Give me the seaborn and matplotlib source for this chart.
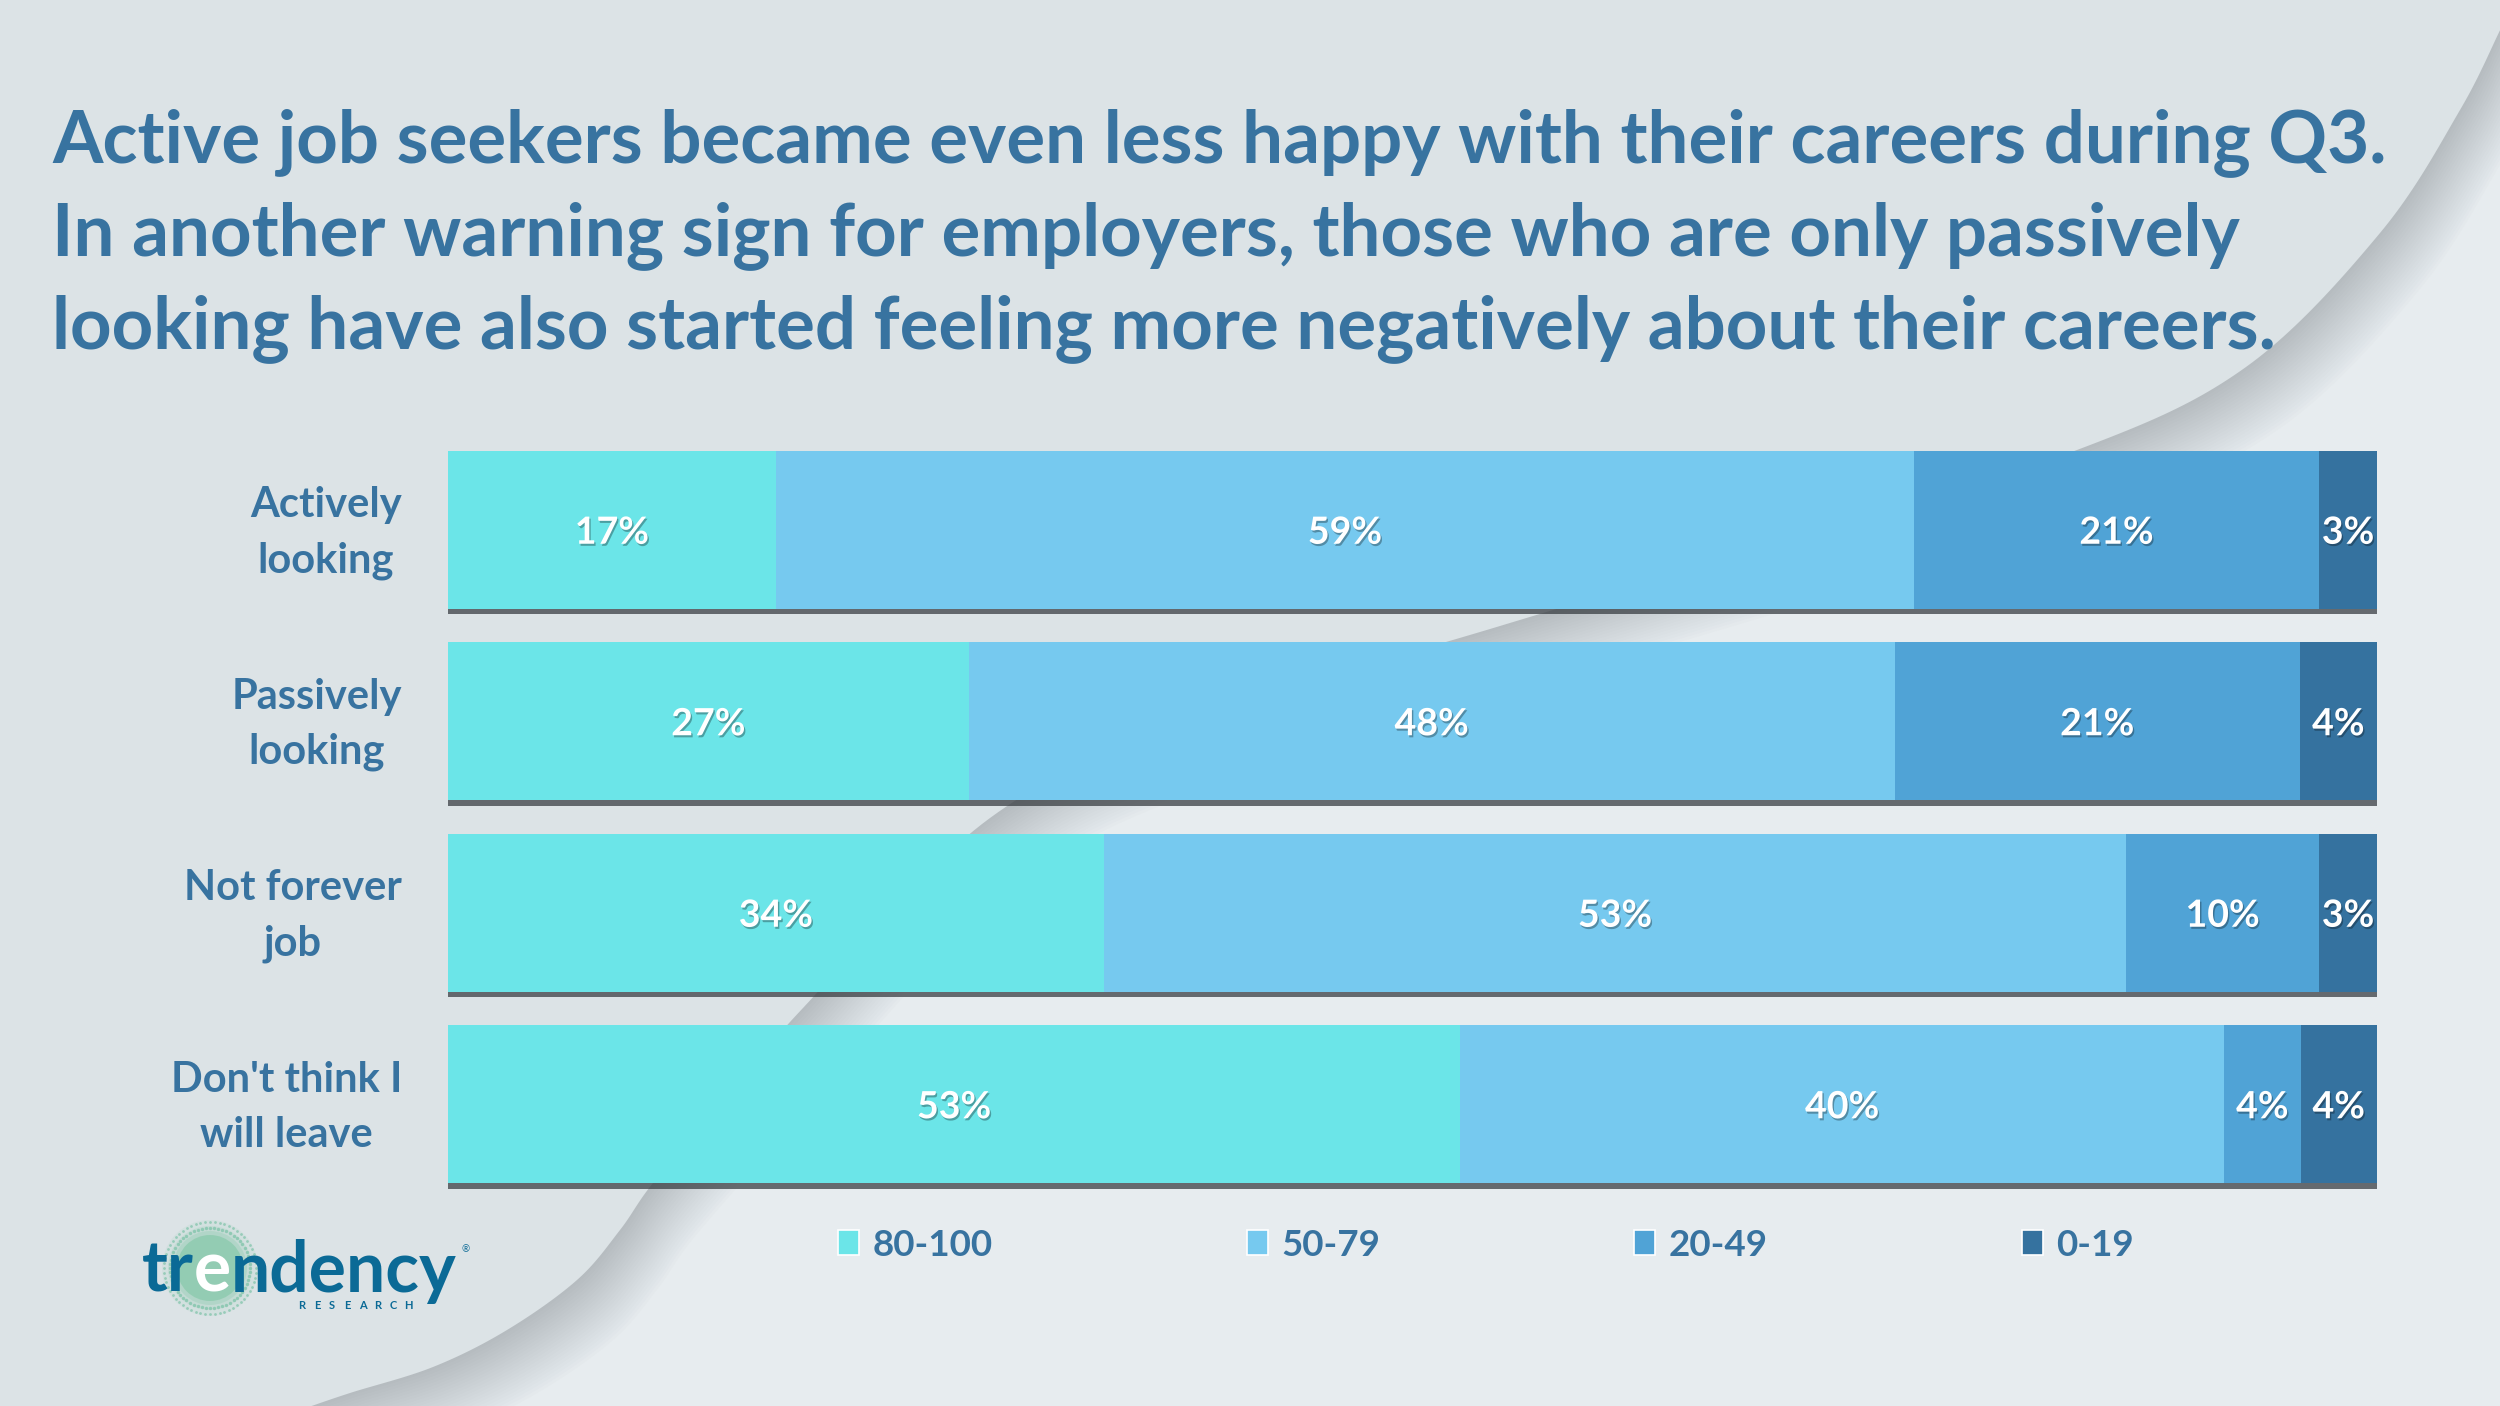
import numpy as np
import pandas as pd
import matplotlib
matplotlib.use("Agg")
import matplotlib.pyplot as plt
import seaborn as sns
from matplotlib.patches import Polygon, Patch, Circle
import matplotlib.patheffects as pe

# ---------------- data ----------------
categories = ["Actively\nlooking", "Passively\nlooking", "Not forever\njob", "Don't think I\nwill leave"]
bands = ["80-100", "50-79", "20-49", "0-19"]
v_80_100 = [17, 27, 34, 53]
v_50_79 = [59, 48, 53, 40]
v_20_49 = [21, 21, 10, 4]
v_0_19 = [3, 4, 3, 4]
colors = ["#6BE5E8", "#76C9EF", "#50A3D6", "#35729F"]
title_lines = [
    "Active job seekers became even less happy with their careers during Q3.",
    "In another warning sign for employers, those who are only passively",
    "looking have also started feeling more negatively about their careers.",
]
TXT = "#3873A0"
LOGO = "#0B6A96"

W, H = 2500, 1406
sns.set_theme(style="white")
plt.rcParams["font.family"] = ["Lato", "DejaVu Sans"]

fig = plt.figure(figsize=(W / 100, H / 100), dpi=100)
fig.patch.set_facecolor("#E7ECEF")

# ---------------- background decoration ----------------
bg = fig.add_axes([0, 0, 1, 1], zorder=0)
bg.set_xlim(0, W)
bg.set_ylim(H, 0)
bg.axis("off")


def catmull(pts, n=24):
    P = np.array(pts, float)
    P = np.vstack([P[0] * 2 - P[1], P, P[-1] * 2 - P[-2]])
    out = []
    for i in range(1, len(P) - 2):
        p0, p1, p2, p3 = P[i - 1], P[i], P[i + 1], P[i + 2]
        t = np.linspace(0, 1, n, endpoint=False)[:, None]
        out.append(0.5 * ((2 * p1) + (-p0 + p2) * t + (2 * p0 - 5 * p1 + 4 * p2 - p3) * t ** 2
                          + (-p0 + 3 * p1 - 3 * p2 + p3) * t ** 3))
    out.append(P[-2][None])
    return np.vstack(out)


curve_pts = [(300, 1410), (350, 1393), (433, 1367), (507, 1330), (577, 1280), (620, 1230),
             (653, 1183), (720, 1105), (803, 1008), (990, 818), (1200, 718), (1500, 626),
             (1800, 536), (2077, 450), (2246, 367), (2380, 233), (2460, 110), (2505, 20)]
curve = catmull(curve_pts)
poly = np.vstack([curve, [[2505, -300], [-300, -300], [-300, 1410]]])

for k in range(24):
    d = k * 3.0
    sh = poly + np.array([d * 0.55, d * 0.85])
    bg.add_patch(Polygon(sh, closed=True, facecolor="#7A8288", edgecolor="none", alpha=0.02))
bg.add_patch(Polygon(poly, closed=True, facecolor="#DCE3E6", edgecolor="none"))

# ---------------- title ----------------
r = fig.canvas.get_renderer()
tmp = fig.text(0, 0, title_lines[0], fontsize=50, fontweight="bold")
w0 = tmp.get_window_extent(renderer=r).width
tmp.remove()
tsize = 50 * 2340 / w0
for line, yb in zip(title_lines, [162, 255, 348]):
    bg.text(52, yb, line, fontsize=tsize, fontweight="bold", color=TXT, va="baseline", ha="left")

# ---------------- bars ----------------
df = pd.DataFrame({"category": categories, "80-100": v_80_100, "50-79": v_50_79,
                   "20-49": v_20_49, "0-19": v_0_19})
tot = df[bands].sum(axis=1)
cum = df[bands].cumsum(axis=1).div(tot, axis=0) * 100
plot_df = pd.concat([df[["category"]], cum.add_prefix("cum_")], axis=1)

ax = fig.add_axes([448 / W, 1 - 1200 / H, (2377 - 448) / W, (1200 - 434) / H], zorder=2)
ax.patch.set_alpha(0)
for i in reversed(range(4)):
    n_before = len(ax.patches)
    sns.barplot(data=plot_df, x="cum_" + bands[i], y="category", color=colors[i], width=0.826,
                saturation=1, errorbar=None, orient="h", ax=ax)
    for p in ax.patches[n_before:]:
        p.set_linewidth(0)
        if i == 3:
            p.set_path_effects([pe.SimplePatchShadow(offset=(0, -4), shadow_rgbFace="#3a3f44", alpha=0.75),
                                pe.Normal()])

ax.set_xlim(0, 100)
ax.set_ylim(3.5, -0.5)
ax.set_xlabel("")
ax.set_ylabel("")
ax.set_xticks([])
for s in ax.spines.values():
    s.set_visible(False)
ax.set_yticks(range(len(categories)))
ax.set_yticklabels([""] * len(categories))
ax.tick_params(axis="y", length=0)

ytrans = ax.get_yaxis_transform()
ax_w_px = 2377 - 448
for row, cat in enumerate(categories):
    ax.text(-46 / ax_w_px, row + 0.018, cat, transform=ytrans, ha="right", va="center",
            multialignment="center", linespacing=1.55, fontsize=30, fontweight="bold", color=TXT)

for row in range(len(categories)):
    start = 0.0
    for i, b in enumerate(bands):
        end = cum.loc[row, b]
        ax.text((start + end) / 2, row, f"{df.loc[row, b]}%", ha="center", va="center_baseline",
                color="white", fontsize=27, fontweight="bold",
                path_effects=[pe.withSimplePatchShadow(offset=(1, -1.5), shadow_rgbFace="#000000", alpha=0.3)])
        start = end

# ---------------- legend ----------------
handles = [Patch(facecolor=c, edgecolor="white", linewidth=1.2, label=b) for c, b in zip(colors, bands)]
leg = fig.legend(handles=handles, loc="center left", bbox_to_anchor=(838 / W, 1 - 1245 / H), ncol=4,
                 frameon=False, prop={"weight": "bold", "size": 26.5}, labelcolor=TXT,
                 handlelength=0.57, handleheight=0.64, handletextpad=0.37, columnspacing=6.9,
                 borderpad=0, borderaxespad=0)

# ---------------- logo ----------------
for rr, a in [(48, 0.10), (42, 0.16), (37, 0.25), (33, 0.55)]:
    bg.add_patch(Circle((210, 1268), rr, facecolor="#7CC6A2", edgecolor="none", alpha=a))
ang = np.linspace(0, 2 * np.pi, 60, endpoint=False)
for rad, sz in [(40, 6), (46, 4)]:
    bg.scatter(210 + rad * np.cos(ang), 1268 + rad * np.sin(ang), s=sz, color="#5DB894", alpha=0.5,
               linewidths=0)

lt = bg.text(0, 0, "trendency", fontsize=50, fontweight="bold")
lw = lt.get_window_extent(renderer=r).width
lt.remove()
lsize = 50 * 316 / lw
x = 142
for piece, col in [("tr", LOGO), ("e", "white"), ("ndency", LOGO)]:
    t = bg.text(x, 1292, piece, fontsize=lsize, fontweight="bold", color=col, va="baseline", ha="left")
    x += t.get_window_extent(renderer=r).width
bg.text(466, 1250, "®", fontsize=7, color=LOGO, ha="center", va="center")
for xi, ch in zip(np.linspace(302, 408, 8), "RESEARCH"):
    bg.text(xi, 1309, ch, fontsize=8, fontweight="bold", color=LOGO, ha="center", va="baseline")

fig.savefig("out.png", dpi=100, facecolor=fig.get_facecolor())
